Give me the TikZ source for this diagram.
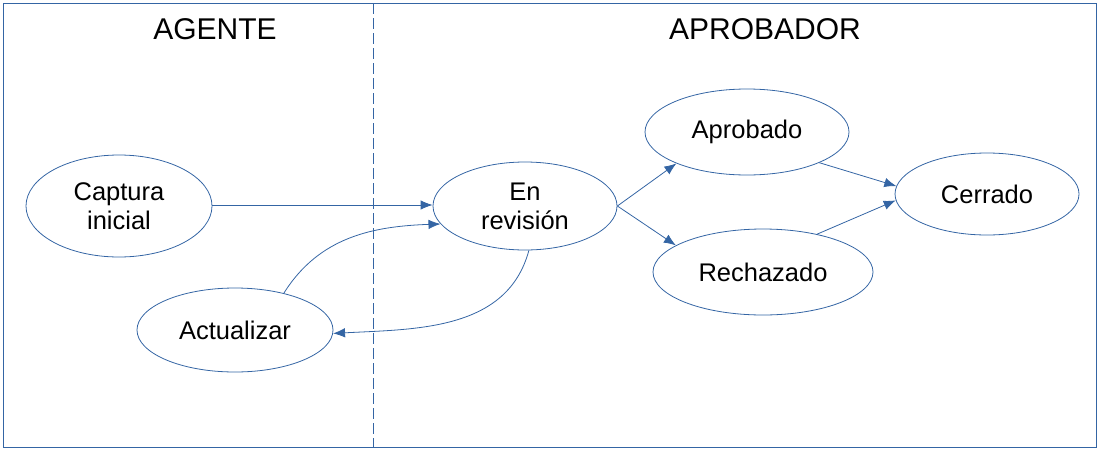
\documentclass[tikz,border=0pt]{standalone}
\usepackage{fontspec}
\setmainfont{Liberation Sans}
\usetikzlibrary{arrows.meta}
\usetikzlibrary{shapes.geometric}

\definecolor{lineblue}{HTML}{3465A4}

\begin{document}
\begin{tikzpicture}[x=1pt,y=-1pt,
    estado/.style={ellipse,draw=lineblue,line width=0.8pt,inner sep=0pt,align=center,font=\fontsize{25.5}{29}\selectfont},
    flecha/.style={-{Latex[length=12pt,width=9.5pt]},draw=lineblue,line width=0.8pt},
    titulo/.style={font=\fontsize{30}{34}\selectfont}]
    \useasboundingbox (0,0) rectangle (1099,450);
    % marco y division
    \draw[lineblue,line width=0.9pt] (3,3) rectangle (1096,447);
    \draw[lineblue,line width=0.9pt,dash pattern=on 10.5pt off 4.5pt] (373,3) -- (373,447);
    \node[titulo] (agente) at (215,29) {AGENTE};
    \node[titulo] (aprobador) at (765,29) {APROBADOR};
    %
    \node[estado,minimum width=186pt,minimum height=102pt] (captura) at (119,206) {Captura\\inicial};
    \node[estado,minimum width=196pt,minimum height=84pt] (actualizar) at (235,330) {Actualizar};
    \node[estado,minimum width=184pt,minimum height=88pt] (revision) at (525,206) {En\\revisión};
    \node[estado,minimum width=204pt,minimum height=86pt] (aprobado) at (747,132) {Aprobado};
    \node[estado,minimum width=220pt,minimum height=86pt] (rechazado) at (763,272) {Rechazado};
    \node[estado,minimum width=184pt,minimum height=82pt] (cerrado) at (987,194) {Cerrado};
    %
    \draw[flecha] (captura.east |- 0,205) -- (revision.west |- 0,205);
    \draw[flecha] (actualizar.37) to[out=58,in=182] (revision.192);
    \draw[flecha] (revision.275) to[out=-105,in=3] (actualizar.358);
    \draw[flecha] (revision.east) -- (aprobado.204);
    \draw[flecha] (revision.east) -- (rechazado.163);
    \draw[flecha] (aprobado.-23) -- (cerrado.175);
    \draw[flecha] (rechazado.35) -- (cerrado.184);
\end{tikzpicture}
\end{document}
